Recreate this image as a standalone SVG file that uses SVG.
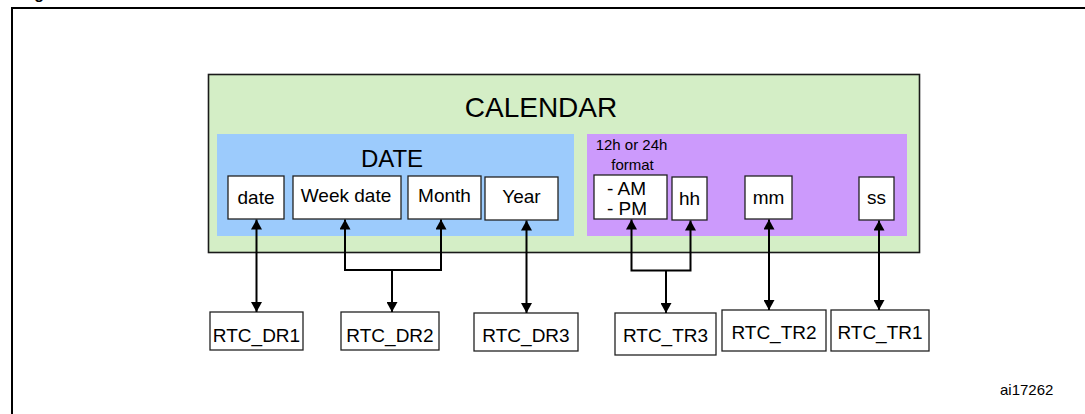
<svg xmlns="http://www.w3.org/2000/svg" width="1085" height="414" viewBox="0 0 1085 414">
  <style>
    text { font-family: "Liberation Sans", Arial, Helvetica, sans-serif; fill: #000; }
    .field { fill: #fff; stroke: #222; stroke-width: 1.3; }
    .lbl { font-size: 19px; text-anchor: middle; }
    .conn { fill: none; stroke: #000; stroke-width: 2; }
  </style>
  <defs>
    <marker id="arrow" viewBox="0 0 10 10" refX="10" refY="5" markerWidth="10" markerHeight="11" markerUnits="userSpaceOnUse" orient="auto-start-reverse" preserveAspectRatio="none">
      <path d="M0,0 L10,5 L0,10 z" fill="#000"/>
    </marker>
  </defs>

  <rect width="1085" height="414" fill="#fff"/>

  <!-- figure frame and clipped title -->
  <text x="20" y="-1" font-size="16" font-weight="bold">Figure</text>
  <path d="M12,414 V8 H1086" fill="none" stroke="#000" stroke-width="2"/>

  <!-- calendar container -->
  <g id="calendar">
    <rect x="208.5" y="74.5" width="711" height="178" fill="#d4eec6" stroke="#1a1a1a" stroke-width="1.6"/>
    <text x="541" y="116.5" font-size="28" text-anchor="middle">CALENDAR</text>
  </g>

  <!-- date section -->
  <g id="date-section">
    <rect x="217" y="134" width="357" height="102" fill="#9ccbfc"/>
    <text x="392" y="166.5" font-size="24" text-anchor="middle">DATE</text>
  </g>

  <!-- time section -->
  <g id="time-section">
    <rect x="587" y="134" width="320" height="102" fill="#cc9afc"/>
    <text x="631.5" y="150" font-size="15" text-anchor="middle">12h or 24h</text>
    <text x="632.5" y="170" font-size="15" text-anchor="middle">format</text>
  </g>

  <!-- date fields -->
  <g id="field-date">
    <rect class="field" x="228" y="176" width="56" height="43"/>
    <text class="lbl" x="256" y="204">date</text>
  </g>
  <g id="field-weekdate">
    <rect class="field" x="293" y="176" width="108" height="43"/>
    <text class="lbl" x="346" y="201.5">Week date</text>
  </g>
  <g id="field-month">
    <rect class="field" x="408" y="176" width="73" height="43"/>
    <text class="lbl" x="444.5" y="201.5">Month</text>
  </g>
  <g id="field-year">
    <rect class="field" x="485" y="177" width="73" height="43"/>
    <text class="lbl" x="521.5" y="202.5">Year</text>
  </g>

  <!-- time fields -->
  <g id="field-ampm">
    <rect class="field" x="594" y="175" width="73" height="44"/>
    <text x="607" y="195" font-size="19">- AM</text>
    <text x="607" y="214.5" font-size="19">- PM</text>
  </g>
  <g id="field-hh">
    <rect class="field" x="672" y="177" width="35" height="43"/>
    <text class="lbl" x="689.5" y="205">hh</text>
  </g>
  <g id="field-mm">
    <rect class="field" x="745" y="176" width="47" height="43"/>
    <text class="lbl" x="768.5" y="203.5">mm</text>
  </g>
  <g id="field-ss">
    <rect class="field" x="859" y="177" width="35" height="43"/>
    <text class="lbl" x="876.5" y="204">ss</text>
  </g>

  <!-- registers -->
  <g id="reg-dr1">
    <rect class="field" x="210" y="312" width="93" height="38"/>
    <text class="lbl" x="256.5" y="341.5">RTC_DR1</text>
  </g>
  <g id="reg-dr2">
    <rect class="field" x="341" y="312" width="98" height="38"/>
    <text class="lbl" x="390" y="341.5">RTC_DR2</text>
  </g>
  <g id="reg-dr3">
    <rect class="field" x="474" y="313" width="104" height="38"/>
    <text class="lbl" x="526" y="342">RTC_DR3</text>
  </g>
  <g id="reg-tr3">
    <rect class="field" x="615" y="313" width="101" height="42"/>
    <text class="lbl" x="665.5" y="341.5">RTC_TR3</text>
  </g>
  <g id="reg-tr2">
    <rect class="field" x="722" y="310" width="104" height="41"/>
    <text class="lbl" x="774" y="338.5">RTC_TR2</text>
  </g>
  <g id="reg-tr1">
    <rect class="field" x="831" y="310" width="98" height="41"/>
    <text class="lbl" x="880" y="338.5">RTC_TR1</text>
  </g>

  <!-- connectors -->
  <g id="connectors">
    <path class="conn" d="M256.5,219.5 V312" marker-start="url(#arrow)" marker-end="url(#arrow)"/>
    <path class="conn" d="M345,219.5 V270 H441 V219.5" marker-start="url(#arrow)" marker-end="url(#arrow)"/>
    <path class="conn" d="M392,270 V312" marker-end="url(#arrow)"/>
    <path class="conn" d="M526.5,220.5 V313" marker-start="url(#arrow)" marker-end="url(#arrow)"/>
    <path class="conn" d="M631.5,219.5 V270.5 H690.5 V220.5" marker-start="url(#arrow)" marker-end="url(#arrow)"/>
    <path class="conn" d="M666,270.5 V313" marker-end="url(#arrow)"/>
    <path class="conn" d="M769,219.5 V310" marker-start="url(#arrow)" marker-end="url(#arrow)"/>
    <path class="conn" d="M879,220.5 V310" marker-start="url(#arrow)" marker-end="url(#arrow)"/>
  </g>

  <text x="1000" y="395" font-size="15">ai17262</text>
</svg>
